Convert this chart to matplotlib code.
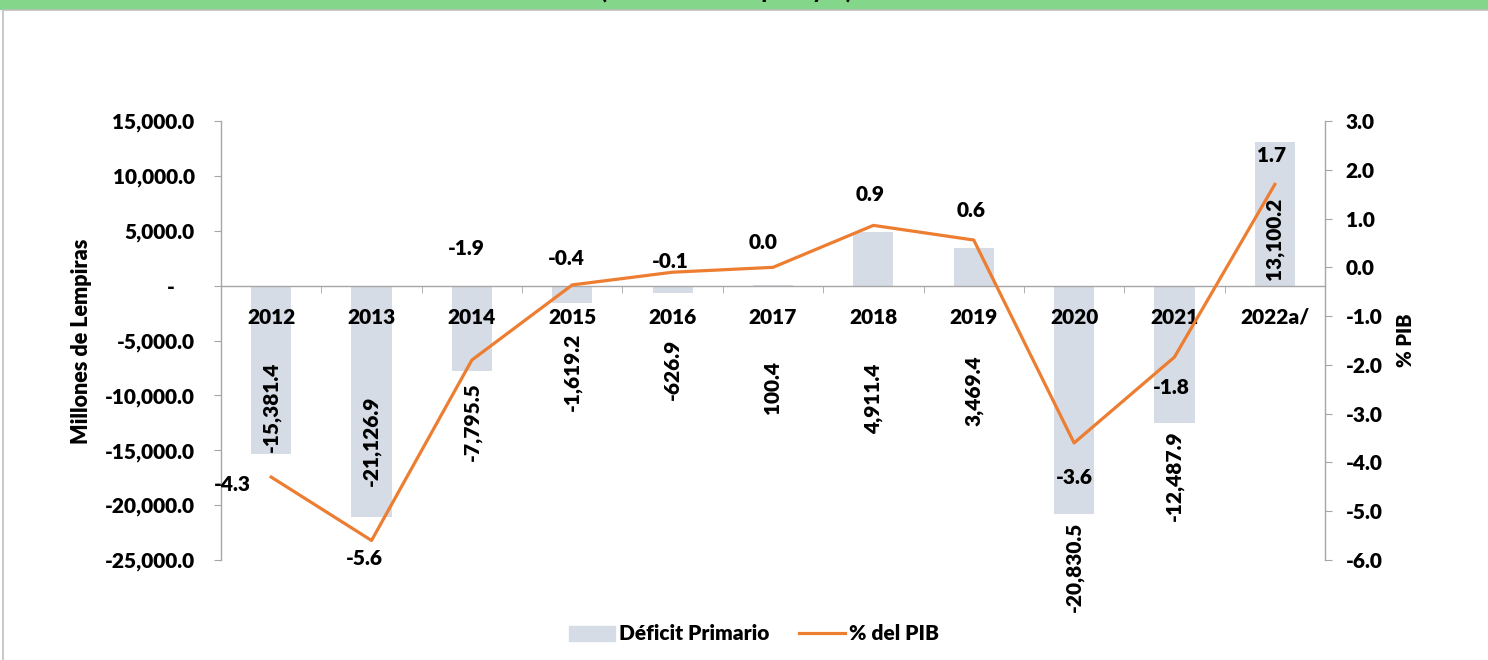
import matplotlib
matplotlib.use("Agg")
import matplotlib.pyplot as plt
import matplotlib.patches as mpatches
from matplotlib.lines import Line2D
from matplotlib.ticker import FuncFormatter, FixedLocator

plt.rcParams["font.family"] = ["Lato", "DejaVu Sans"]
plt.rcParams["font.weight"] = "heavy"

# ── Data ─────────────────────────────────────────────────────────────────────
years = ["2012", "2013", "2014", "2015", "2016", "2017", "2018", "2019",
         "2020", "2021", "2022a/"]
deficit = [-15381.4, -21126.9, -7795.5, -1619.2, -626.9, 100.4, 4911.4,
           3469.4, -20830.5, -12487.9, 13100.2]
pct_pib = [-4.3, -5.6, -1.9, -0.36, -0.1, 0.0, 0.86, 0.56, -3.6, -1.84, 1.7]

# label offsets (points) from each bar end / line point
bar_lbl_dy = [34, 55, -36, -49, -55, -74, -120, -103, -38, -38, -70]
line_lbl_off = [(-28, -5), (-5, -13), (-4, 80), (-4, 19), (-2, 8), (-7, 18),
                (-2, 22), (-2, 21), (0, -25), (-2, -22), (-2, 21)]

BAR = "#D6DCE5"
ORANGE = "#ED7D31"
GRID = "#A6A6A6"
FS = 15

# ── Figure ───────────────────────────────────────────────────────────────────
fig = plt.figure(figsize=(14.88, 6.6), dpi=100)

# green header band (title cut off at the top) and chart-area border
fig.patches.append(mpatches.Rectangle((0, 1 - 9 / 660), 1, 9 / 660,
                                      transform=fig.transFigure,
                                      color="#84D68A", zorder=0))
fig.text(726 / 1488, 1.0, "(Millones de Lempiras y %)",
         ha="center", va="baseline", fontsize=FS, color="black")
fig.lines.append(Line2D([3 / 1488, 1], [1 - 10 / 660] * 2,
                        transform=fig.transFigure, color="#BFBFBF", lw=1.2))
fig.lines.append(Line2D([3 / 1488] * 2, [0, 1 - 10 / 660],
                        transform=fig.transFigure, color="#BFBFBF", lw=1.2))

ax = fig.add_axes([221 / 1488, 100 / 660, 1104 / 1488, 439 / 660])
x = list(range(len(years)))
ax.bar(x, deficit, width=0.4, color=BAR, zorder=2)
ax.set_axisbelow(False)
ax.set_xlim(-0.5, len(years) - 0.5)
ax.set_ylim(-25000, 15000)
ax.set_yticks(range(-25000, 15001, 5000))
ax.yaxis.set_major_formatter(
    FuncFormatter(lambda v, _: "-    " if v == 0 else f"{v:,.1f}"))

ax.spines["top"].set_visible(False)
ax.spines["right"].set_visible(False)
ax.spines["bottom"].set_position(("data", 0))
for s in ("left", "bottom"):
    ax.spines[s].set_color(GRID)
    ax.spines[s].set_linewidth(1.0)

ax.set_xticks(x)
ax.set_xticklabels(years)
ax.xaxis.set_minor_locator(FixedLocator([i + 0.5 for i in x[:-1]]))
ax.tick_params(axis="x", which="major", length=0, pad=16, labelsize=FS)
ax.tick_params(axis="x", which="minor", length=5, color=GRID, direction="out")
ax.tick_params(axis="y", length=5, color=GRID, pad=14, labelsize=FS)

for i, v in enumerate(deficit):
    ax.annotate(f"{v:,.1f}", xy=(i, v), xytext=(0, bar_lbl_dy[i]),
                textcoords="offset points", rotation=90,
                ha="center", va="center", fontsize=FS, zorder=5)

# ── % del PIB on secondary axis ──────────────────────────────────────────────
ax2 = ax.twinx()
ax2.plot(x, pct_pib, color=ORANGE, lw=2.3, zorder=3)
ax2.set_ylim(-6, 3)
ax2.set_yticks(range(-6, 4))
ax2.yaxis.set_major_formatter(FuncFormatter(lambda v, _: f"{v:.1f}"))
for s in ("top", "left", "bottom"):
    ax2.spines[s].set_visible(False)
ax2.spines["right"].set_color(GRID)
ax2.spines["right"].set_linewidth(1.0)
ax2.tick_params(axis="y", length=5, color=GRID, pad=10, labelsize=FS)

for i, v in enumerate(pct_pib):
    dx, dy = line_lbl_off[i]
    ax2.annotate(f"{v:.1f}", xy=(i, v), xytext=(dx, dy),
                 textcoords="offset points", ha="center", va="center",
                 fontsize=FS, annotation_clip=False)

fig.text(81 / 1488, 1 - 341 / 660, "Millones de Lempiras", rotation=90,
         ha="center", va="center", fontsize=15.5)
fig.text(1405 / 1488, 1 - 340 / 660, "% PIB", rotation=90,
         ha="center", va="center", fontsize=14.5)

handles = [mpatches.Patch(color=BAR, label="Déficit Primario"),
           Line2D([], [], color=ORANGE, lw=2.3, label="% del PIB")]
fig.legend(handles=handles, loc="center", bbox_to_anchor=(754 / 1488, 1 - 634 / 660),
           ncol=2, frameon=False, fontsize=15, handlelength=2.2,
           handleheight=0.7, handletextpad=0.2, columnspacing=1.4)

fig.savefig("out.png", dpi=100)
